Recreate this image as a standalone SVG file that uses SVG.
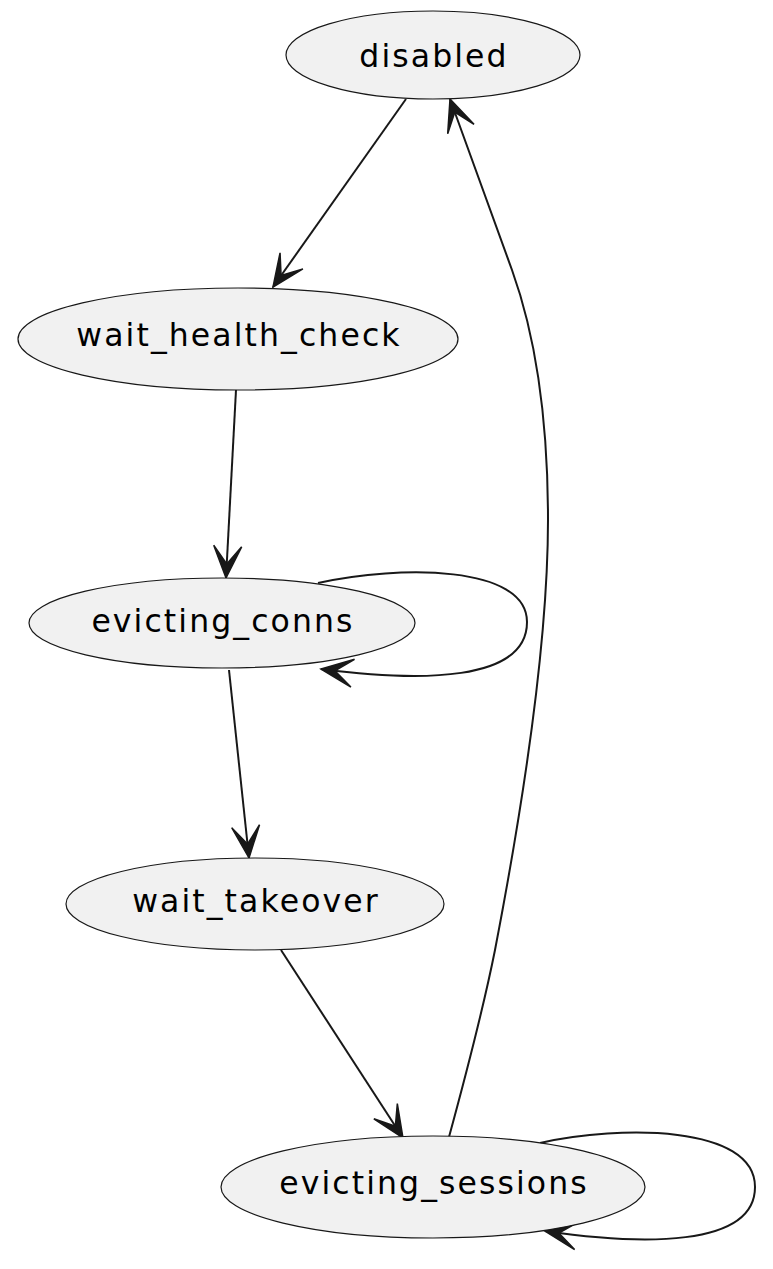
<svg xmlns="http://www.w3.org/2000/svg" width="773" height="1269" viewBox="0 0 773 1269">
<defs>
<style>
.node ellipse{fill:#F1F1F1;stroke:#181818;stroke-width:1.2}
.node text{font-family:"DejaVu Sans",sans-serif;font-size:31.5px;letter-spacing:2.1px;fill:#000;text-anchor:middle}
.edge{fill:none;stroke:#181818;stroke-width:2}
</style>
<marker id="ah" markerUnits="userSpaceOnUse" viewBox="-36 -18 40 36" refX="0" refY="0" markerWidth="40" markerHeight="36" orient="auto">
<path d="M0,0 L-32,-14 L-14,0 L-32,14 Z" fill="#181818" stroke="#181818" stroke-width="1.5" stroke-linejoin="miter"/>
</marker>
</defs>
<rect width="773" height="1269" fill="#fff"/>
<g id="connectors">
<path class="edge" d="M406,99 L273,287" marker-end="url(#ah)"/>
<path class="edge" d="M236,390 L226,578" marker-end="url(#ah)"/>
<path class="edge" d="M318,583 C400,565 527,565 527,622 C527,682 420,682 321,669" marker-end="url(#ah)"/>
<path class="edge" d="M229,670 L249,858" marker-end="url(#ah)"/>
<path class="edge" d="M281,950 L403,1138" marker-end="url(#ah)"/>
<path class="edge" d="M449,1137 C470,1060 485,1000 495,950 C520,820 548,650 548,520 C548,400 530,320 512,270 C494,220 472,160 450,99" marker-end="url(#ah)"/>
<path class="edge" d="M540,1143 C620,1125 755,1125 755,1187 C755,1248 640,1245 545,1231" marker-end="url(#ah)"/>
</g>
<g id="disabled" class="node"><ellipse cx="433" cy="55" rx="147" ry="44"/><text x="434" y="67">disabled</text></g>
<g id="wait_health_check" class="node"><ellipse cx="238" cy="339" rx="220" ry="51"/><text x="239" y="346">wait_health_check</text></g>
<g id="evicting_conns" class="node"><ellipse cx="222" cy="623" rx="193" ry="45"/><text x="223" y="632">evicting_conns</text></g>
<g id="wait_takeover" class="node"><ellipse cx="255" cy="904" rx="189" ry="46"/><text x="256" y="912">wait_takeover</text></g>
<g id="evicting_sessions" class="node"><ellipse cx="433" cy="1187" rx="212" ry="51"/><text x="434" y="1194">evicting_sessions</text></g>
</svg>
